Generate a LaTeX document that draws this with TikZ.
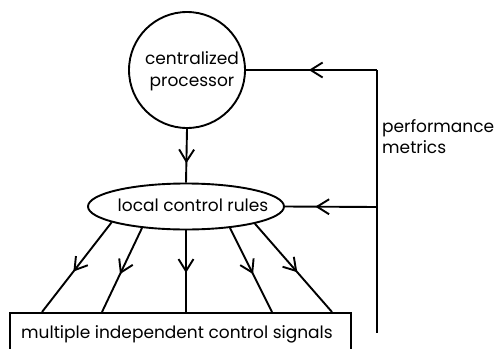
\documentclass[tikz,border=0pt]{standalone}
\usepackage{fontspec}
\setmainfont{Poppins}
\usetikzlibrary{arrows.meta,decorations.markings,shapes.geometric}
\begin{document}
\begin{tikzpicture}[x=1pt,y=-1pt,
  lw/.style={line width=1.9pt},
  txt/.style={font=\fontsize{17}{21.5}\selectfont, align=center, inner sep=0pt},
  chev/.style={decoration={markings,mark=at position #1 with {\arrow{Straight Barb[length=12pt,width=15pt,line width=1.9pt]}}},postaction={decorate}},
  box/.style={lw, draw, inner sep=0pt}]
\useasboundingbox (0,0) rectangle (494,348);
\clip (0,0) rectangle (494,348);
\fill[white] (0,0) rectangle (494,348);
\node[box, circle, minimum size=116pt] (cp) at (187,70) {};
\node[txt] at (192,71) {centralized\\processor};
\node[box, ellipse, minimum width=196pt, minimum height=46pt] (lcr) at (186,206.5) {};
\node[txt] at (193,205) {local control rules};
\node[box, rectangle, minimum width=341pt, minimum height=44pt, anchor=north west] (mis) at (9,312) {};
\node[txt, anchor=base] at (177,338) {multiple independent control signals};
\coordinate (ftop) at (377,70);
\coordinate (fmid) at (377,207);
\coordinate (fbot) at (377,333);
\node[txt, align=left, anchor=north west] (pm) at (382,119) {performance\\metrics};
\draw[lw] (ftop) -- (fbot);
\draw[lw, chev=0.52] (ftop) -- (cp.east);
\draw[lw, chev=0.67] (fmid) -- (lcr.east);
\draw[lw, chev=0.64] (cp.south) -- (lcr.north);
\coordinate (b1) at (42,312);
\coordinate (b2) at (102,312);
\coordinate (b4) at (272,312);
\coordinate (b5) at (332,312);
\draw[lw, chev=0.55] (lcr.192) -- (b1);
\draw[lw, chev=0.55] (lcr.206) -- (b2);
\draw[lw, chev=0.52] (lcr.south) -- (lcr.south |- mis.north);
\draw[lw, chev=0.55] (lcr.334) -- (b4);
\draw[lw, chev=0.55] (lcr.346.5) -- (b5);
\end{tikzpicture}
\end{document}
